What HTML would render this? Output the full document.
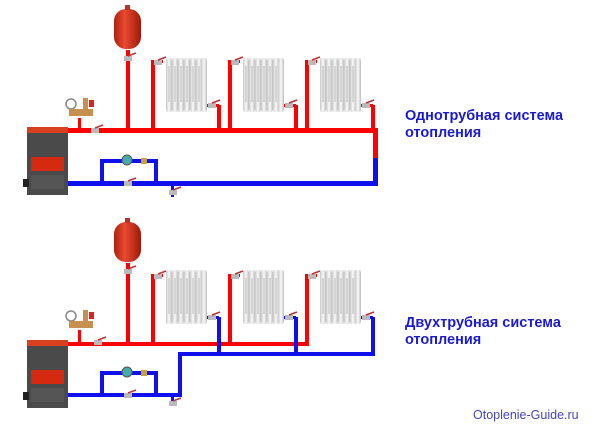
<!DOCTYPE html>
<html><head><meta charset="utf-8"><style>
html,body{margin:0;padding:0;background:#fff;width:600px;height:431px;overflow:hidden}
svg{display:block}
text{font-family:"Liberation Sans",sans-serif}
</style></head><body>
<svg width="600" height="431" viewBox="0 0 600 431" xmlns="http://www.w3.org/2000/svg">
<defs>
<linearGradient id="col" x1="0" x2="1"><stop offset="0" stop-color="#c8c8c8"/><stop offset="0.5" stop-color="#fafafa"/><stop offset="1" stop-color="#bdbdbd"/></linearGradient>
<linearGradient id="tankg" x1="0" x2="1"><stop offset="0" stop-color="#b02010"/><stop offset="0.4" stop-color="#e84a30"/><stop offset="1" stop-color="#a01808"/></linearGradient>
<g id="rad">
  <rect x="0" y="0" width="41" height="54" fill="#eee"/>
  <g fill="url(#col)">
    <rect x="0" y="0" width="6" height="54" rx="3"/><rect x="6" y="0" width="6" height="54" rx="3"/><rect x="12" y="0" width="6" height="54" rx="3"/><rect x="18" y="0" width="6" height="54" rx="3"/><rect x="24" y="0" width="6" height="54" rx="3"/><rect x="30" y="0" width="6" height="54" rx="3"/><rect x="35" y="0" width="6" height="54" rx="3"/>
  </g>
  <g stroke="#999" stroke-width="0.6"><line x1="3" y1="8" x2="3" y2="44"/><line x1="9" y1="8" x2="9" y2="44"/><line x1="15" y1="8" x2="15" y2="44"/><line x1="21" y1="8" x2="21" y2="44"/><line x1="27" y1="8" x2="27" y2="44"/><line x1="33" y1="8" x2="33" y2="44"/></g>
</g>
<g id="boiler">
  <rect x="0" y="0" width="41" height="68" fill="#4a4a4a"/>
  <rect x="0" y="0" width="41" height="6" fill="#d84020"/>
  <rect x="4" y="30" width="33" height="14" fill="#d42a10"/>
  <rect x="4" y="48" width="33" height="14" fill="#555"/>
  <rect x="-4" y="52" width="6" height="8" fill="#222"/>
</g>
<g id="tankshape">
  <rect x="0" y="4" width="27" height="40" rx="12" fill="url(#tankg)"/>
  <rect x="11" y="0" width="5" height="5" fill="#c03020"/>
</g>
<g id="valve"><rect x="-4" y="-2" width="8" height="5" fill="#bbb"/><line x1="0" y1="-2" x2="8" y2="-5" stroke="#c03030" stroke-width="1.5"/></g>
<g id="gauge">
  <circle cx="0" cy="0" r="5" fill="#fff" stroke="#888" stroke-width="1.5"/>
  <rect x="-2" y="5" width="24" height="7" fill="#c89050"/>
  <rect x="12" y="-6" width="5" height="12" fill="#c89050"/>
  <rect x="18" y="-4" width="5" height="7" fill="#d22"/>
</g>
<g id="pump">
  <path d="M3 24 V2 H57 V24" fill="none" stroke="#1010ee" stroke-width="4"/>
  <circle cx="28" cy="1" r="5" fill="#4aa" stroke="#555"/>
  <rect x="42" y="-1" width="6" height="6" fill="#c8a040"/>
</g>
</defs>

<!-- TOP SYSTEM -->
<rect x="126" y="50" width="4" height="80" fill="#f00"/>
<use href="#tankshape" x="114" y="5"/>
<use href="#rad" x="166" y="58"/>
<use href="#rad" x="243" y="58"/>
<use href="#rad" x="320" y="58"/>
<g fill="#f00">
<rect x="151" y="60" width="4" height="72"/><rect x="151" y="60" width="12" height="3"/>
<rect x="217" y="105" width="4" height="27"/><rect x="207" y="104" width="12" height="3"/>
<rect x="228" y="60" width="4" height="72"/><rect x="228" y="60" width="12" height="3"/>
<rect x="294" y="105" width="4" height="27"/><rect x="284" y="104" width="12" height="3"/>
<rect x="305" y="60" width="4" height="72"/><rect x="305" y="60" width="12" height="3"/>
<rect x="371" y="105" width="4" height="27"/><rect x="361" y="104" width="12" height="3"/>
<rect x="66" y="128" width="312" height="5"/>
<rect x="373" y="128" width="5" height="31"/>
<rect x="78" y="118" width="3" height="12"/>
</g>
<rect x="373" y="158" width="5" height="28" fill="#1010ee"/>
<rect x="66" y="181" width="312" height="5" fill="#1010ee"/>
<use href="#pump" x="99" y="159"/>
<rect x="171" y="185" width="3" height="12" fill="#1010ee"/>
<use href="#gauge" x="71" y="104"/>
<use href="#valve" x="95" y="130"/><use href="#valve" x="128" y="58"/><use href="#valve" x="158" y="62"/><use href="#valve" x="235" y="62"/><use href="#valve" x="312" y="62"/><use href="#valve" x="212" y="105"/><use href="#valve" x="289" y="105"/><use href="#valve" x="366" y="105"/><use href="#valve" x="128" y="183"/><use href="#valve" x="173" y="192"/>
<use href="#boiler" x="27" y="127"/>

<!-- BOTTOM SYSTEM -->
<rect x="126" y="263" width="4" height="81" fill="#f00"/>
<use href="#tankshape" x="114" y="218"/>
<use href="#rad" x="166" y="270"/>
<use href="#rad" x="243" y="270"/>
<use href="#rad" x="320" y="270"/>
<g fill="#f00">
<rect x="151" y="274" width="4" height="72"/><rect x="151" y="274" width="12" height="3"/>
<rect x="228" y="274" width="4" height="72"/><rect x="228" y="274" width="12" height="3"/>
<rect x="305" y="274" width="4" height="72"/><rect x="305" y="274" width="12" height="3"/>
<rect x="66" y="342" width="243" height="4"/>
<rect x="78" y="330" width="3" height="14"/>
</g>
<g fill="#1010ee">
<rect x="217" y="317" width="4" height="39"/><rect x="207" y="316" width="12" height="3"/>
<rect x="294" y="317" width="4" height="39"/><rect x="284" y="316" width="12" height="3"/>
<rect x="371" y="317" width="4" height="39"/><rect x="361" y="316" width="12" height="3"/>
<rect x="178" y="352" width="197" height="4"/>
<rect x="178" y="352" width="4" height="45"/>
<rect x="66" y="393" width="116" height="4"/>
<rect x="171" y="396" width="3" height="10"/>
</g>
<use href="#pump" x="99" y="371"/>
<use href="#gauge" x="71" y="316"/>
<use href="#valve" x="98" y="342"/><use href="#valve" x="128" y="271"/><use href="#valve" x="158" y="276"/><use href="#valve" x="235" y="276"/><use href="#valve" x="312" y="276"/><use href="#valve" x="212" y="317"/><use href="#valve" x="289" y="317"/><use href="#valve" x="366" y="317"/><use href="#valve" x="128" y="395"/><use href="#valve" x="173" y="403"/>
<use href="#boiler" x="27" y="340"/>

<text x="405" y="120" font-size="14.5" font-weight="bold" fill="#1a1ad4">Однотрубная система</text>
<text x="405" y="137" font-size="14.5" font-weight="bold" fill="#1a1ad4">отопления</text>
<text x="405" y="327" font-size="14.5" font-weight="bold" fill="#1a1ad4">Двухтрубная система</text>
<text x="405" y="344" font-size="14.5" font-weight="bold" fill="#1a1ad4">отопления</text>
<text x="473" y="419" font-size="12.5" fill="#4545c0">Otoplenie-Guide.ru</text>
</svg>
</body></html>
